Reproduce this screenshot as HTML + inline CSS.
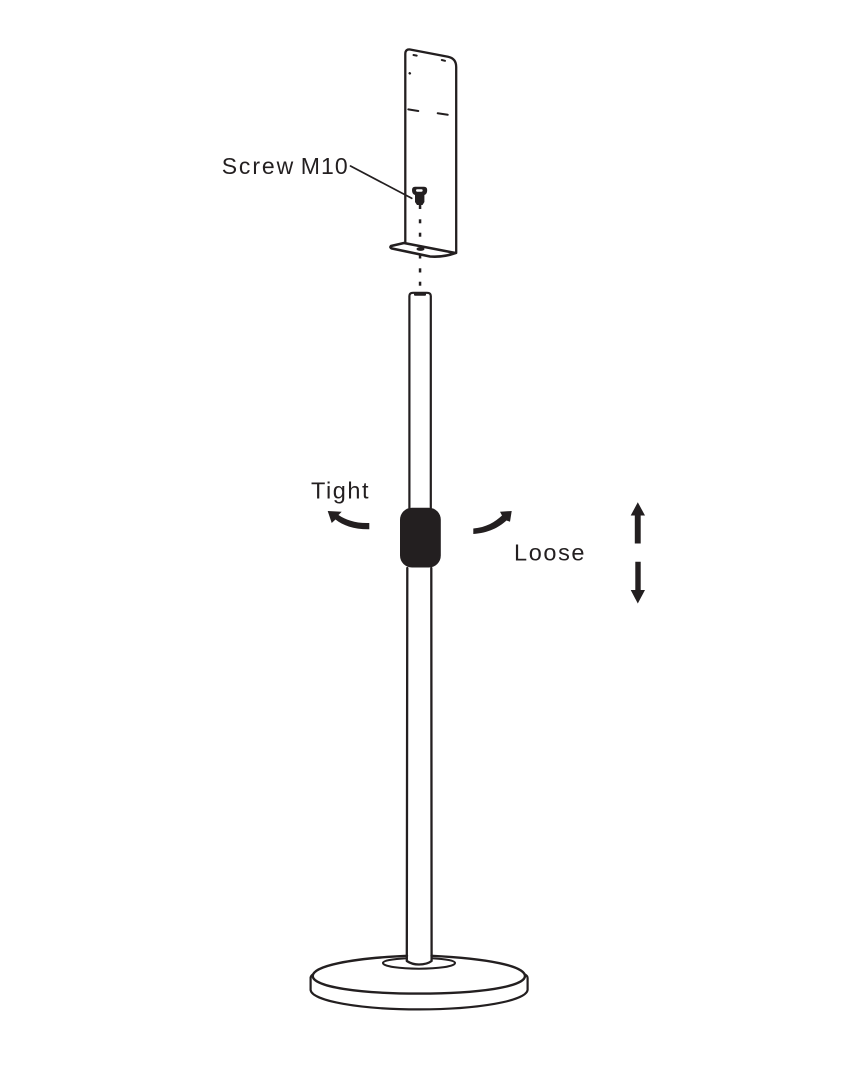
<!DOCTYPE html>
<html>
<head>
<meta charset="utf-8">
<style>
html,body{margin:0;padding:0;background:#fff;width:867px;height:1080px;overflow:hidden}
svg{display:block}
text{font-family:"Liberation Sans",Arial,sans-serif;fill:#231f20}
</style>
</head>
<body>
<svg width="867" height="1080" viewBox="0 0 867 1080" xmlns="http://www.w3.org/2000/svg">
<g fill="none" stroke="#231f20" stroke-linecap="round" stroke-linejoin="round">
  <!-- plate -->
  <path d="M405.300 242 V54 Q405.300 49 410 49.500 L448 56.800 Q456.200 58.500 456.200 67 V253" stroke-width="2.300"/>
  <path d="M404 243 L391 246 Q389.500 247.500 392 248.500 L430 256.500 Q443 257.500 455.500 253 L404 243Z" stroke-width="2.600"/>
  <path d="M413.500 55 L416.700 55.600 M441.800 60 L445 60.800" stroke-width="2"/>
  <path d="M409.700 73.300 L409.900 73.400" stroke-width="2.400"/>
  <path d="M408.300 109.400 L418.300 111 M437.700 113.300 L447.700 114.800" stroke-width="2"/>
  <!-- leader -->
  <path d="M350.500 166 L411.700 198.300" stroke-width="1.700"/>
  <!-- upper tube -->
  <path d="M409.400 508 V296 Q409.400 292.800 413 292.800 H427 Q430.800 292.800 430.800 296 V508" stroke-width="2.200"/>
  <!-- lower tube -->
  <path d="M407.300 568 L406.800 961 Q412 964.500 419 964.500 Q427 964.500 431.600 961 L431.300 568" stroke-width="2.300"/>
  <!-- base -->
  <path d="M407 955.800 C350 958.500 312.700 966 312.700 976 C312.700 987 360 993.600 419 993.600 C478 993.600 525 987 525 976 C525 966 488 958.500 431.500 955.800" stroke-width="2.400"/>
  <path d="M312.700 974.500 Q310.600 976 310.600 978 V990 C312 1001 360 1009.400 419 1009.400 C478 1009.400 526 1001 527.600 990 V978 Q527.600 976 525 974.500" stroke-width="2.200"/>
  <path d="M407 958.200 C392 959 383 960.500 383 963 C383 966.500 400 968.700 419 968.700 C438 968.700 455 966.500 455 963 C455 960.500 446 959 431.500 958.200" stroke-width="2"/>
</g>
<g fill="#231f20">
  <!-- dotted axis -->
  <rect x="418.800" y="204" width="2.500" height="5"/>
  <rect x="418.800" y="219.300" width="2.500" height="4"/>
  <rect x="418.800" y="232.700" width="2.500" height="4"/>
  <rect x="418.800" y="255" width="2.500" height="3.500"/>
  <rect x="418.800" y="268.300" width="2.500" height="4.200"/>
  <rect x="418.800" y="281.700" width="2.500" height="4"/>
  <!-- screw -->
  <path d="M415 186.700 H424 Q427.200 186.700 427.200 190 Q427.200 194 424.400 195 V202 L422.500 205 H417 L415 202 V195 Q412 194 412 190 Q412 186.700 415 186.700Z"/>
  <rect x="416" y="189.200" width="6.700" height="2.500" rx="1.200" fill="#fff"/>
  <!-- tube top opening -->
  <rect x="414" y="293" width="12" height="2.800" rx="1"/>
  <!-- foot hole -->
  <ellipse cx="420.500" cy="249" rx="4" ry="1.900"/>
  <!-- collar -->
  <rect x="400" y="507.700" width="40.800" height="59.800" rx="12"/>
  <!-- vertical arrows -->
  <path d="M637.800 502.300 L645 515.500 H640.700 V543.500 H634.800 V515.500 H630.700Z"/>
  <path d="M635.300 561.700 H640.700 V590 H645 L637.800 603.500 L630.700 590 H635.300Z"/>
  <!-- tight arrow -->
  <path d="M369.300 523 V529.300 C354 529.500 343 525.500 335.500 519.500 L331.700 523 L327.700 511 L341.700 511.700 L338.500 515 C346 520 356 523.500 369.300 523Z"/>
  <!-- loose arrow -->
  <path d="M473.300 528.500 V534 C488 533 499 527.500 506.500 520.500 L510 521.700 L511.700 511 L500 511.700 L502 515.500 C495 522 486 527.500 473.300 528.500Z"/>
</g>
<text x="221.700" y="174" font-size="23" textLength="71.500" lengthAdjust="spacing">Screw</text>
<text x="300.700" y="174" font-size="23" textLength="47" lengthAdjust="spacing">M10</text>
<text x="311" y="498.300" font-size="23.500" textLength="57.500" lengthAdjust="spacing">Tight</text>
<text x="514" y="560.700" font-size="23.500" textLength="70.500" lengthAdjust="spacing">Loose</text>
</svg>
</body>
</html>
